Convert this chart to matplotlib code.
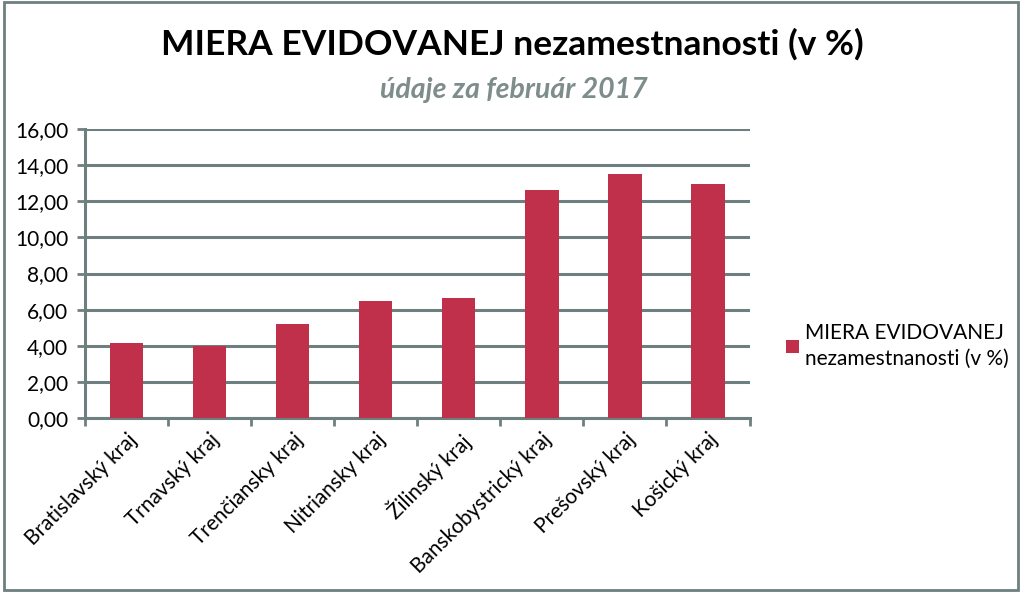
import numpy as np
import matplotlib.pyplot as plt

# Data
regions = ['Bratislavský kraj', 'Trnavský kraj', 'Trenčiansky kraj', 'Nitriansky kraj',
           'Žilinský kraj', 'Banskobystrický kraj', 'Prešovský kraj', 'Košický kraj']
rates = [4.15, 3.98, 5.22, 6.47, 6.66, 12.60, 13.50, 12.95]
y_ticks = [0, 2, 4, 6, 8, 10, 12, 14, 16]
series_name = 'MIERA EVIDOVANEJ\nnezamestnanosti (v %)'

bar_color = '#C0304A'
grid_color = '#6E7F7F'

plt.rcParams['font.family'] = ['Lato', 'DejaVu Sans']

fig = plt.figure(figsize=(10.24, 5.94), dpi=100)
ax = fig.add_axes([0.083, 0.296, 0.649, 0.487])

x = np.arange(len(regions))
ax.bar(x, rates, width=0.4, color=bar_color, zorder=3, label=series_name)

ax.set_xlim(-0.5, len(regions) - 0.5)
ax.set_ylim(0, 16)
ax.set_yticks(y_ticks)
ax.set_yticklabels([f'{v:.2f}'.replace('.', ',') for v in y_ticks], fontsize=15)
ax.yaxis.grid(True, color=grid_color, linewidth=2.2, zorder=0)

# category boundary ticks on x axis
ax.set_xticks(np.arange(len(regions) + 1) - 0.5, minor=False)
ax.set_xticklabels([])
ax.set_xticks(x, minor=True)
ax.set_xticklabels(regions, minor=True, rotation=45, ha='right',
                   rotation_mode='anchor', fontsize=15)
ax.tick_params(axis='x', which='minor', length=0, pad=8)
ax.tick_params(axis='x', which='major', length=6, width=2, color=grid_color)
ax.tick_params(axis='y', length=6, width=2, color=grid_color, pad=6)

for s in ['top', 'right']:
    ax.spines[s].set_visible(False)
for s in ['left', 'bottom']:
    ax.spines[s].set_color(grid_color)
    ax.spines[s].set_linewidth(2.2)

leg = ax.legend(loc='center left', bbox_to_anchor=(1.055, 0.25), frameon=False,
                fontsize=15, handlelength=0.6, handleheight=0.6, handletextpad=0.3,
                borderaxespad=0, borderpad=0)
for t in leg.get_texts():
    t.set_linespacing(1.4)

fig.text(0.5, 0.925, 'MIERA EVIDOVANEJ nezamestnanosti (v %)', ha='center', va='center',
         fontsize=25.5, fontweight='bold', color='black')
fig.text(0.502, 0.848, 'údaje za február 2017', ha='center', va='center',
         fontsize=20.5, fontweight='bold', style='italic', color='#7F8C8C')

# outer frame
fig.patches.append(plt.Rectangle((0.004, 0.006), 0.99, 0.99, transform=fig.transFigure,
                                 fill=False, edgecolor=grid_color, linewidth=2))

fig.savefig('out.png', dpi=100)
